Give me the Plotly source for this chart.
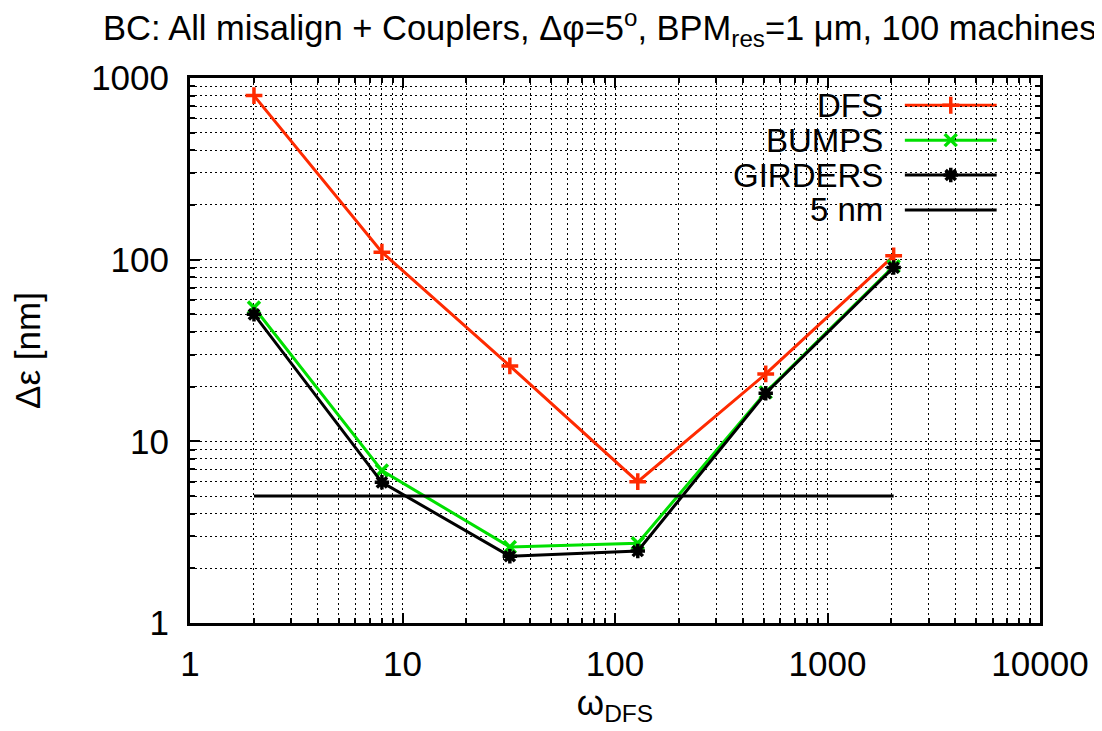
import plotly.graph_objects as go

omega = [2, 8, 32, 128, 512, 2048]
dfs = [800, 110, 26, 6.0, 23.5, 105]
bumps = [54.5, 6.9, 2.62, 2.75, 18.6, 92]
girders = [50, 5.95, 2.33, 2.49, 18.4, 90.5]
threshold_nm = 5
series_names = ["DFS", "BUMPS", "GIRDERS", "5 nm"]
colors = ["#ff2a00", "#00e000", "#000000", "#000000"]
symbols = ["cross-thin", "x-thin", "asterisk", None]

FONT = "Liberation Sans, Arial, Helvetica, sans-serif"

fig = go.Figure()

ys = [dfs, bumps, girders]
for name, y, c, s in zip(series_names[:3], ys, colors[:3], symbols[:3]):
    fig.add_trace(go.Scatter(
        x=omega, y=y, mode="lines+markers", name=name,
        line=dict(color=c, width=3),
        marker=dict(symbol=s, size=12, color=c, line=dict(color=c, width=3.5)),
        showlegend=False))

fig.add_trace(go.Scatter(
    x=[omega[0], omega[-1]], y=[threshold_nm, threshold_nm], mode="lines",
    name=series_names[3], line=dict(color=colors[3], width=3), showlegend=False))

# custom gnuplot-style key (text right, sample on the right)
key_y = [0.950, 0.886, 0.822, 0.758]
fig.add_shape(type="rect", xref="paper", yref="paper", x0=0.647, x1=0.972,
              y0=0.724, y1=0.982, fillcolor="white", line=dict(width=0), layer="between")
for name, c, s, ky in zip(series_names, colors, symbols, key_y):
    fig.add_annotation(x=0.818, y=ky, xref="paper", yref="paper", text=name,
                       showarrow=False, xanchor="right", yanchor="middle",
                       font=dict(family=FONT, size=33, color="black"))
    fig.add_shape(type="line", xref="paper", yref="paper", x0=0.841, x1=0.949,
                  y0=ky, y1=ky, line=dict(color=c, width=3), layer="between")
    if s:
        fig.add_trace(go.Scatter(
            x=[0.895], y=[ky], xaxis="x2", yaxis="y2", mode="markers",
            marker=dict(symbol=s, size=12, color=c, line=dict(color=c, width=3.5)),
            showlegend=False, hoverinfo="skip"))

DOT = "2px,3px"

fig.update_layout(
    width=1102, height=731,
    margin=dict(l=182, r=70, t=70, b=116, autoexpand=False),
    paper_bgcolor="white", plot_bgcolor="white",
    font=dict(family=FONT, size=35, color="black"),
    title=dict(
        text="BC: All misalign + Couplers, Δφ=5<sup>o</sup>, BPM<sub>res</sub>=1 μm, 100 machines)",
        x=95 / 1102, xanchor="left", xref="container",
        y=1 - 20 / 731, yanchor="middle", yref="container", pad=dict(l=0, r=0, t=0, b=0),
        font=dict(family=FONT, size=34.5, color="black")),
    xaxis=dict(
        type="log", range=[0, 4], tickvals=[1, 10, 100, 1000, 10000],
        ticktext=["1", "10", "100", "1000", "10000"],
        ticks="inside", ticklen=10, tickwidth=1.5, tickcolor="black",
        showline=True, linecolor="black", linewidth=3, mirror="allticks",
        ticklabelstandoff=8, zeroline=False, automargin=False,
        tickfont=dict(family=FONT, size=35),
        showgrid=True, gridcolor="#000000", gridwidth=1, griddash=DOT,
        minor=dict(ticks="inside", ticklen=5, tickcolor="black",
                   showgrid=True, gridcolor="#000000", gridwidth=1, griddash=DOT,
                   dtick="D1"),
        title=dict(text="ω<sub>DFS</sub>", standoff=0,
                   font=dict(family=FONT, size=35))),
    yaxis=dict(
        type="log", range=[0, 3], tickvals=[1, 10, 100, 1000],
        ticktext=["1", "10", "100", "1000"],
        ticks="inside", ticklen=10, tickwidth=1.5, tickcolor="black",
        showline=True, linecolor="black", linewidth=3, mirror="allticks",
        ticklabelstandoff=11, zeroline=False, automargin=False,
        tickfont=dict(family=FONT, size=35),
        showgrid=True, gridcolor="#000000", gridwidth=1, griddash=DOT,
        minor=dict(ticks="inside", ticklen=5, tickcolor="black",
                   showgrid=True, gridcolor="#000000", gridwidth=1, griddash=DOT,
                   dtick="D1"),
        title=dict(text="Δε [nm]", standoff=40,
                   font=dict(family=FONT, size=35))),
    xaxis2=dict(overlaying="x", range=[0, 1], visible=False, fixedrange=True),
    yaxis2=dict(overlaying="y", range=[0, 1], visible=False, fixedrange=True),
)

fig.write_html("out.html")
